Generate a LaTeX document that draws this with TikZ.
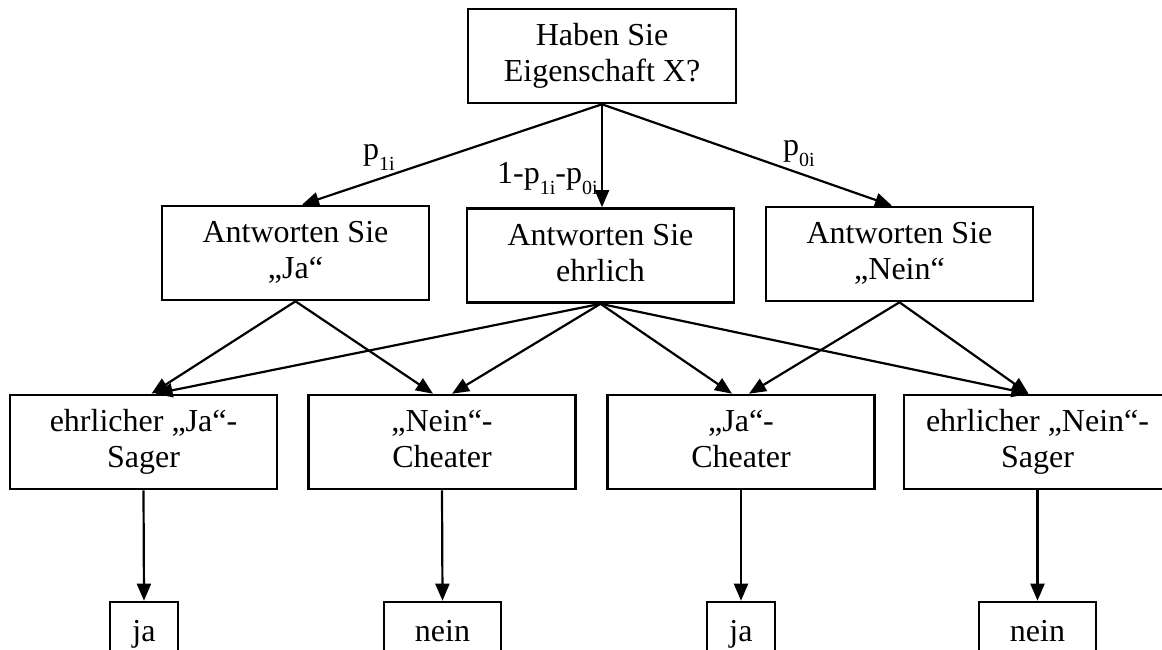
\documentclass[tikz,border=0pt]{standalone}
\usepackage{fontspec}
\setmainfont{Liberation Serif}
\usetikzlibrary{arrows.meta,calc}
\newcommand{\lowsub}[1]{\raisebox{-11pt}{\fontsize{20}{20}\selectfont #1}}
\begin{document}
\begin{tikzpicture}[x=1pt,y=-1pt,
  box/.style={draw,line width=2.6pt,minimum width=267pt,minimum height=94pt,inner sep=0pt,align=center,text height=59pt,text depth=8pt,font=\fontsize{32}{36}\selectfont},
  leaf/.style={draw,line width=2.6pt,minimum height=64pt,inner sep=0pt,align=center,text height=23pt,text depth=8pt,font=\fontsize{32}{36}\selectfont},
  lab/.style={inner sep=0pt,anchor=base west,font=\fontsize{32}{36}\selectfont},
  conn/.style={line width=2.2pt,-{Triangle[length=17pt,width=14pt]}}]
\clip (0,0) rectangle (1162,650);
\fill[white] (0,0) rectangle (1162,650);
% top
\node[box,minimum width=268pt] (top) at (602,56) {Haben Sie\\Eigenschaft X?};
% middle
\node[box] (m1) at (295.5,253) {Antworten Sie\\„Ja“};
\node[box] (m2) at (600.5,255.5) {Antworten Sie\\ehrlich};
\node[box] (m3) at (899.5,254) {Antworten Sie\\„Nein“};
% bottom
\node[box] (b1) at (143.5,442) {ehrlicher „Ja“-\\Sager};
\node[box] (b2) at (442,442) {„Nein“-\\Cheater};
\node[box] (b3) at (741,442) {„Ja“-\\Cheater};
\node[box] (b4) at (1037.5,442) {ehrlicher „Nein“-\\Sager};
% leaves
\node[leaf,minimum width=68pt] (l1) at (144,634) {ja};
\node[leaf,minimum width=117pt] (l2) at (442.5,634) {nein};
\node[leaf,minimum width=68pt] (l3) at (741,634) {ja};
\node[leaf,minimum width=117pt] (l4) at (1037.5,634) {nein};
% labels
\node[lab] (pa) at (363,160) {p\lowsub{1i}};
\node[lab] (pb) at (497,183) {1-p\lowsub{1i}-p\lowsub{0i}};
\node[lab] (pc) at (783,156) {p\lowsub{0i}};
% connectors top -> middle
\draw[conn] (top.south) -- ($(m1.north)+(6.5,0)$);
\draw[conn] (top.south) -- (top.south |- m2.north);
\draw[conn] (top.south) -- ($(m3.north)+(-7.5,0)$);
% middle -> bottom
\draw[conn] (m1.south) -- ($(b1.north)+(8,0)$);
\draw[conn] (m1.south) -- ($(b2.north)+(-9,0)$);
\draw[conn] (m2.south) -- ($(b1.north)+(12,0)$);
\draw[conn] (m2.south) -- ($(b2.north)+(10,0)$);
\draw[conn] (m2.south) -- ($(b3.north)+(-9,0)$);
\draw[conn] (m2.south) -- ($(b4.north)+(-9,0)$);
\draw[conn] (m3.south) -- ($(b3.north)+(8,0)$);
\draw[conn] (m3.south) -- ($(b4.north)+(-9,0)$);
% bottom -> leaves
\draw[conn] (b1.south) -- (l1.north);
\draw[conn] (b2.south) -- (l2.north);
\draw[conn] (b3.south) -- (l3.north);
\draw[conn] (b4.south) -- (l4.north);
\end{tikzpicture}
\end{document}
